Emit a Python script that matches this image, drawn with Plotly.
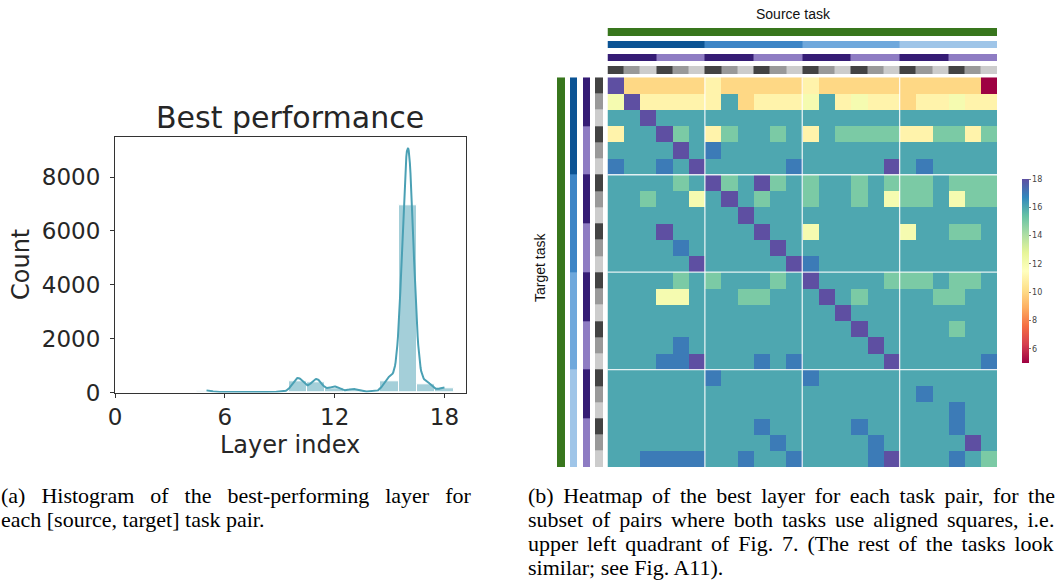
import numpy as np
import plotly.graph_objects as go

W, H = 1058, 583

# ---------------- histogram data: best-performing layer per task pair ----------------
layers = [5, 6, 7, 8, 9, 10, 11, 12, 13, 14, 15, 16, 17, 18]
counts = [60, 15, 25, 20, 25, 410, 380, 170, 100, 30, 430, 6950, 300, 140]
x_ticks = [0, 6, 12, 18]
y_ticks = [0, 2000, 4000, 6000, 8000]

KDE_BW = 0.305    # kernel bandwidth (layers)
BIN_WIDTH = 1.0

# ---------------- heatmap data: best layer, rows = target task, cols = source task ----------------
best_layer = [
    [18, 10, 10, 10, 10, 10, 11, 10, 10, 10, 10, 10, 11, 10, 10, 10, 10, 10, 10, 10, 10, 10, 10, 5],
    [12, 18, 11, 11, 11, 11, 11, 16, 10, 11, 11, 11, 12, 16, 11, 12, 11, 11, 10, 11, 11, 12, 11, 11],
    [16, 16, 18, 16, 16, 16, 16, 16, 16, 16, 16, 16, 16, 16, 16, 16, 16, 16, 16, 16, 16, 16, 16, 16],
    [11, 16, 16, 18, 15, 16, 11, 15, 16, 16, 15, 16, 11, 16, 15, 15, 15, 15, 11, 11, 15, 15, 11, 15],
    [16, 16, 16, 16, 18, 16, 17, 16, 16, 16, 16, 16, 16, 16, 16, 16, 16, 16, 16, 16, 16, 16, 16, 16],
    [17, 16, 16, 17, 16, 18, 16, 16, 16, 16, 16, 17, 16, 16, 16, 16, 16, 18, 16, 17, 16, 16, 16, 16],
    [16, 16, 16, 16, 15, 16, 18, 15, 16, 18, 15, 16, 15, 16, 16, 15, 16, 15, 15, 15, 16, 15, 15, 15],
    [16, 16, 15, 16, 16, 12, 16, 18, 16, 15, 16, 16, 15, 16, 16, 15, 16, 12, 15, 15, 16, 12, 15, 15],
    [16, 16, 16, 16, 16, 16, 16, 16, 18, 16, 16, 16, 16, 16, 16, 16, 16, 16, 16, 16, 16, 16, 16, 16],
    [16, 16, 16, 18, 16, 16, 16, 16, 16, 18, 16, 16, 12, 16, 16, 16, 16, 16, 12, 16, 16, 15, 15, 16],
    [16, 16, 16, 16, 17, 16, 16, 16, 16, 16, 18, 16, 16, 16, 16, 16, 16, 16, 16, 16, 16, 16, 16, 16],
    [16, 16, 16, 16, 16, 18, 16, 16, 16, 16, 16, 18, 17, 16, 16, 16, 16, 16, 16, 16, 16, 16, 16, 16],
    [16, 16, 16, 16, 15, 16, 15, 16, 16, 16, 15, 16, 18, 16, 16, 16, 16, 15, 15, 15, 16, 15, 15, 16],
    [16, 16, 16, 12, 12, 16, 16, 16, 15, 15, 16, 16, 16, 18, 16, 15, 16, 16, 16, 16, 15, 15, 16, 16],
    [16, 16, 16, 16, 16, 16, 16, 16, 16, 16, 16, 16, 16, 16, 18, 16, 16, 16, 16, 16, 16, 16, 16, 16],
    [16, 16, 16, 16, 16, 16, 16, 16, 16, 16, 16, 16, 16, 16, 16, 18, 16, 16, 16, 16, 16, 15, 16, 16],
    [16, 16, 16, 16, 17, 16, 16, 16, 16, 16, 16, 16, 16, 16, 16, 16, 18, 16, 16, 16, 16, 16, 16, 16],
    [16, 16, 16, 17, 17, 18, 16, 16, 16, 17, 16, 17, 16, 16, 16, 16, 16, 18, 16, 16, 16, 16, 16, 17],
    [16, 16, 16, 16, 16, 16, 17, 16, 16, 16, 16, 16, 17, 16, 16, 16, 16, 16, 16, 16, 16, 16, 16, 16],
    [16, 16, 16, 16, 16, 16, 16, 16, 16, 16, 16, 16, 16, 16, 16, 16, 16, 16, 16, 17, 16, 16, 16, 16],
    [16, 16, 16, 16, 16, 16, 16, 16, 16, 16, 16, 16, 16, 16, 16, 16, 16, 16, 16, 16, 16, 17, 16, 16],
    [16, 16, 16, 16, 16, 16, 16, 16, 16, 17, 16, 16, 16, 16, 16, 17, 16, 16, 16, 16, 16, 17, 16, 16],
    [16, 16, 16, 16, 16, 16, 16, 16, 16, 16, 17, 16, 16, 16, 16, 16, 17, 16, 16, 16, 16, 16, 18, 16],
    [16, 16, 17, 17, 17, 17, 16, 16, 17, 16, 16, 17, 16, 16, 16, 16, 17, 18, 16, 16, 16, 17, 16, 15],
]
colorbar_ticks = [6, 8, 10, 12, 14, 16, 18]
Z_MIN, Z_MAX = 5, 18

# task hierarchy: 4 groups x 2 halves x 3 shades = 24 tasks
task_group = [g for g in range(4) for _ in range(6)]
task_half = [h for _ in range(4) for h in range(2) for _ in range(3)]
task_shade = [s for _ in range(8) for s in range(3)]

LEVEL_COLORS = ["#38761d",                                   # all tasks
                "#0b5394", "#3d85c6", "#6fa8dc", "#9fc5e8",  # group
                "#351c75", "#8e7cc3",                        # half
                "#434343", "#999999", "#cccccc"]             # shade
n_tasks = len(task_group)
level_rows = [
    [0] * n_tasks,
    [1 + g for g in task_group],
    [5 + h for h in task_half],
    [7 + s for s in task_shade],
]

# ---------------- helpers ----------------
def fx(px):
    return px / W


def fy(py):
    return 1 - py / H


step_scale = []
for k, c in enumerate(LEVEL_COLORS):
    step_scale.append([k / len(LEVEL_COLORS), c])
    step_scale.append([(k + 1) / len(LEVEL_COLORS), c])

TEXT = "#262626"
TEAL = "rgb(74,160,180)"

fig = go.Figure()

# ---------------- (a) histogram + kde ----------------
fig.add_trace(go.Bar(
    x=layers, y=counts, width=BIN_WIDTH,
    marker=dict(color="rgba(74,160,180,0.5)", line=dict(color="white", width=1)),
    xaxis="x", yaxis="y", hoverinfo="skip",
))
lay = np.array(layers, dtype=float)
cnt = np.array(counts, dtype=float)
kx = np.linspace(lay.min(), lay.max(), 400)
ky = (cnt[None, :] * np.exp(-0.5 * ((kx[:, None] - lay[None, :]) / KDE_BW) ** 2)
      / (KDE_BW * np.sqrt(2 * np.pi))).sum(axis=1) * BIN_WIDTH
fig.add_trace(go.Scatter(x=kx, y=ky, mode="lines", line=dict(color=TEAL, width=2),
                         xaxis="x", yaxis="y", hoverinfo="skip"))

# ---------------- (b) heatmap ----------------
fig.add_trace(go.Heatmap(
    z=best_layer, colorscale="Spectral", zmin=Z_MIN, zmax=Z_MAX,
    xaxis="x2", yaxis="y2", hoverinfo="skip",
    colorbar=dict(x=fx(1022), xanchor="left", y=fy(271), yanchor="middle",
                  len=184 / H, thickness=7, outlinewidth=0, xpad=0, ypad=0,
                  tickvals=colorbar_ticks, ticks="outside", ticklen=2,
                  tickcolor="#777", tickwidth=0.6,
                  tickfont=dict(size=8, color="#444", family="DejaVu Sans")),
))

BAR_THICK, BAR_PITCH = 7.7, 12.8
edges = []
for i in range(len(level_rows)):
    edges += [i * BAR_PITCH, i * BAR_PITCH + BAR_THICK]
gap_row = [None] * n_tasks
top_z = []
for i, row in enumerate(level_rows):
    top_z.append(row)
    if i < len(level_rows) - 1:
        top_z.append(gap_row)

fig.add_trace(go.Heatmap(
    z=top_z, y=edges, x=list(range(n_tasks)), colorscale=step_scale,
    zmin=-0.5, zmax=len(LEVEL_COLORS) - 0.5, showscale=False,
    xaxis="x3", yaxis="y3", hoverinfo="skip",
))
left_z = [list(col) for col in zip(*top_z)]
fig.add_trace(go.Heatmap(
    z=left_z, x=edges, y=list(range(n_tasks)), colorscale=step_scale,
    zmin=-0.5, zmax=len(LEVEL_COLORS) - 0.5, showscale=False,
    xaxis="x4", yaxis="y4", hoverinfo="skip",
))

# white separators between task groups
for b in (5.5, 11.5, 17.5):
    fig.add_shape(type="line", xref="x2", yref="y2 domain", x0=b, x1=b, y0=0, y1=1,
                  line=dict(color="rgba(255,255,255,0.85)", width=1.3))
    fig.add_shape(type="line", yref="y2", xref="x2 domain", y0=b, y1=b, x0=0, x1=1,
                  line=dict(color="rgba(255,255,255,0.85)", width=1.3))

# ---------------- axes ----------------
hide = dict(showgrid=False, zeroline=False, showticklabels=False, ticks="", showline=False,
            automargin=False)
tickfont = dict(family="DejaVu Sans", size=23, color=TEXT)
fig.update_layout(
    template=None,
    width=W, height=H, margin=dict(l=0, r=0, t=0, b=0, pad=0, autoexpand=False),
    paper_bgcolor="white", plot_bgcolor="white", showlegend=False,
    bargap=0,
    xaxis=dict(domain=[fx(115), fx(465.7)], range=[0, 19.16], anchor="y", automargin=False,
               tickvals=x_ticks, ticks="outside", ticklen=4, tickwidth=1, tickcolor="#333",
               showline=True, mirror=True, linecolor="#333", linewidth=1,
               showgrid=False, zeroline=False, tickfont=tickfont, ticklabelstandoff=0),
    yaxis=dict(domain=[fy(392.5), fy(137.3)], range=[0, 9480], anchor="x", automargin=False,
               tickvals=y_ticks, ticks="outside", ticklen=4, tickwidth=1, tickcolor="#333",
               showline=True, mirror=True, linecolor="#333", linewidth=1,
               showgrid=False, zeroline=False, tickfont=tickfont, ticklabelstandoff=5),
    xaxis2=dict(domain=[fx(607.5), fx(997)], range=[-0.5, n_tasks - 0.5], anchor="y2", **hide),
    yaxis2=dict(domain=[fy(467), fy(77.3)], range=[n_tasks - 0.5, -0.5], anchor="x2", **hide),
    xaxis3=dict(domain=[fx(607.5), fx(997)], range=[-0.5, n_tasks - 0.5], anchor="y3", **hide),
    yaxis3=dict(domain=[fy(74), fy(28)], range=[edges[-1], 0], anchor="x3", **hide),
    xaxis4=dict(domain=[fx(557), fx(603)], range=[0, edges[-1]], anchor="y4", **hide),
    yaxis4=dict(domain=[fy(467), fy(77.3)], range=[n_tasks - 0.5, -0.5], anchor="x4", **hide),
)

# ---------------- text ----------------
def label(text, x, y, size, family, color=TEXT, angle=0, xanchor="center"):
    fig.add_annotation(text=text, x=fx(x), y=fy(y), xref="paper", yref="paper",
                       showarrow=False, textangle=angle, xanchor=xanchor, yanchor="middle",
                       font=dict(size=size, family=family, color=color))


label("Best performance", 290, 117, 30, "DejaVu Sans")
label("Count", 21, 265, 24, "DejaVu Sans", angle=-90)
label("Layer index", 290, 445, 24, "DejaVu Sans")
label("Source task", 793.5, 14, 14, "Liberation Sans", color="#111")
label("Target task", 540, 268, 14, "Liberation Sans", color="#111", angle=-90)

SERIF = "Liberation Serif"
# caption lines with the extra word spacing (px) used to justify them
cap_a = [("(a) Histogram of the best-performing layer for", 10.5),
         ("each [source, target] task pair.", 0.0)]
cap_b = [("(b) Heatmap of the best layer for each task pair, for the", 4.0),
         ("subset of pairs where both tasks use aligned squares, i.e.", 3.5),
         ("upper left quadrant of Fig. 7. (The rest of the tasks look", 3.4),
         ("similar; see Fig. A11).", 0.0)]


def caption(lines, x0):
    for i, (line, ws) in enumerate(lines):
        txt = line if ws == 0 else f'<span style="word-spacing:{ws}px">{line}</span>'
        label(txt, x0, 495 + 24 * i, 22, SERIF, color="#000", xanchor="left")


caption(cap_a, -1)
caption(cap_b, 526)

fig.write_html("out.html")
